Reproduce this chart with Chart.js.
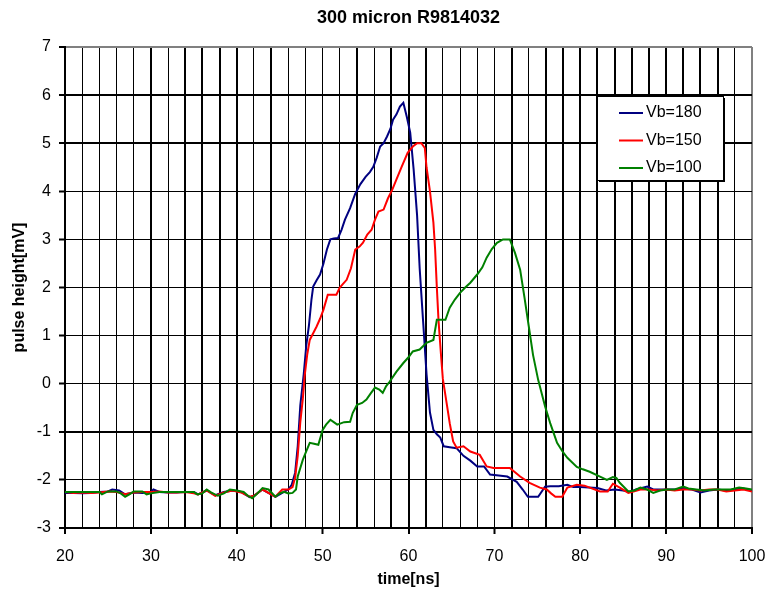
<!DOCTYPE html>
<html>
<head>
<meta charset="utf-8">
<script src="https://cdn.jsdelivr.net/npm/chart.js@4.4.0/dist/chart.umd.min.js"></script>
<style>
body { margin: 0; background: #fff; }
canvas { display: block; }
</style>
</head>
<body>
<canvas id="pulseChart" width="767" height="594"></canvas>
<script>
// traces: time [ns] / pulse height [mV]
var chartTitle = '300 micron R9814032';
var seriesNames = ["Vb=180", "Vb=150", "Vb=100"];

var tVb180 = [20, 21, 22, 23, 24, 25, 25.5, 26.3, 27, 28, 29, 30, 30.3, 31, 32, 33, 34, 35, 35.5, 36.5, 37.5, 38.5, 39.5, 40.5, 41.5, 42, 43, 44, 44.5, 45, 45.5, 46, 46.4, 46.8, 47.1, 47.4, 47.8, 48.1, 48.4, 48.7, 48.9, 49.3, 49.7, 50.1, 50.5, 50.9, 51.3, 51.8, 52.2, 52.6, 53.2, 53.8, 54.4, 55, 55.5, 55.9, 56.3, 56.7, 57.1, 57.5, 57.9, 58.2, 58.6, 59, 59.4, 59.8, 60.2, 60.6, 61, 61.3, 61.7, 62.1, 62.5, 62.9, 63.3, 63.7, 64.1, 64.8, 65.6, 66.4, 67.2, 68, 68.8, 69.5, 70.5, 71.5, 72.6, 73.3, 73.9, 74.5, 75.1, 75.9, 76.5, 77.5, 78.5, 79.2, 80, 81, 82, 83, 84, 85, 85.8, 86.5, 87.8, 88.5, 89, 90, 91, 92, 93, 94, 95, 96, 97, 98, 99, 100];
var vVb180 = [-2.27, -2.27, -2.28, -2.27, -2.25, -2.24, -2.2, -2.22, -2.3, -2.26, -2.27, -2.25, -2.2, -2.25, -2.26, -2.26, -2.25, -2.25, -2.3, -2.22, -2.32, -2.25, -2.22, -2.25, -2.36, -2.33, -2.2, -2.3, -2.35, -2.3, -2.25, -2.2, -2.1, -1.85, -1.3, -0.45, 0.2, 0.8, 1.2, 1.75, 2.02, 2.15, 2.27, 2.5, 2.79, 3.0, 3.02, 3.03, 3.2, 3.41, 3.65, 3.95, 4.15, 4.3, 4.4, 4.51, 4.7, 4.93, 5.0, 5.14, 5.3, 5.49, 5.6, 5.76, 5.84, 5.55, 5.22, 4.45, 3.5, 2.4, 1.3, 0.2, -0.6, -0.96, -1.05, -1.12, -1.3, -1.32, -1.34, -1.5, -1.6, -1.72, -1.72, -1.89, -1.91, -1.93, -2.04, -2.2, -2.35, -2.35, -2.35, -2.14, -2.13, -2.13, -2.1, -2.15, -2.15, -2.16, -2.17, -2.22, -2.2, -2.22, -2.25, -2.2, -2.14, -2.2, -2.2, -2.2, -2.2, -2.18, -2.2, -2.26, -2.22, -2.2, -2.22, -2.2, -2.18, -2.22];

var tVb150 = [20, 21, 22, 23, 24, 25, 26, 27, 28, 29, 30, 31, 32, 33, 34, 35, 35.5, 36.5, 37.5, 38.5, 39.5, 40.5, 41.5, 42, 43, 44, 44.5, 45.3, 46, 46.5, 46.8, 47.1, 47.4, 47.7, 47.9, 48.2, 48.5, 48.9, 49.3, 49.7, 50.1, 50.6, 51.1, 51.6, 52, 52.4, 52.8, 53.3, 53.8, 54.3, 54.7, 55.2, 55.7, 56.1, 56.5, 57.1, 57.6, 58.1, 58.6, 59.2, 59.9, 60.5, 61, 61.5, 61.9, 62.1, 62.5, 62.9, 63.1, 63.3, 63.5, 63.8, 64, 64.5, 64.8, 65.2, 65.6, 66.4, 67.2, 68.3, 69.1, 69.9, 70.8, 71.8, 73, 74.1, 75.3, 76.1, 76.6, 77.1, 77.9, 78.5, 79.6, 80.5, 81.1, 82.3, 83.2, 83.8, 84.6, 85.6, 86.2, 87, 88, 89, 90, 91, 92, 93, 94, 95, 96, 97, 98, 99, 100];
var vVb150 = [-2.25, -2.27, -2.26, -2.27, -2.26, -2.24, -2.25, -2.3, -2.26, -2.25, -2.25, -2.24, -2.26, -2.26, -2.25, -2.28, -2.3, -2.22, -2.33, -2.26, -2.22, -2.26, -2.35, -2.33, -2.2, -2.3, -2.35, -2.2, -2.2, -2.15, -1.95, -1.5, -0.8, -0.3, 0.15, 0.6, 0.91, 1.05, 1.19, 1.35, 1.54, 1.85, 1.85, 1.85, 2.0, 2.08, 2.16, 2.4, 2.79, 2.85, 2.93, 3.1, 3.2, 3.41, 3.58, 3.62, 3.85, 4.03, 4.25, 4.51, 4.8, 4.93, 5.0, 5.0, 4.9, 4.5, 4.0, 3.35, 2.79, 2.0, 1.3, 0.56, 0.1, -0.47, -0.82, -1.2, -1.33, -1.3, -1.41, -1.48, -1.72, -1.75, -1.75, -1.75, -1.93, -2.06, -2.16, -2.2, -2.28, -2.35, -2.35, -2.16, -2.1, -2.12, -2.16, -2.24, -2.24, -2.08, -2.16, -2.27, -2.24, -2.2, -2.2, -2.22, -2.2, -2.22, -2.2, -2.2, -2.22, -2.2, -2.2, -2.24, -2.22, -2.2, -2.24];

var tVb100 = [20, 21, 22, 23, 24, 24.3, 25, 26, 26.5, 27, 27.5, 28, 29, 29.5, 30, 31, 32, 33, 34, 35, 35.4, 36, 36.5, 37, 37.8, 38.5, 39.2, 40, 40.8, 41.3, 41.8, 42.3, 43, 43.7, 44.5, 45, 45.5, 46, 46.5, 46.9, 47.1, 47.7, 48.1, 48.5, 49, 49.5, 50, 50.4, 50.9, 51.3, 51.7, 52.5, 53.2, 53.5, 54, 54.6, 55.1, 55.6, 56.1, 56.6, 57, 57.4, 57.8, 58.6, 59.4, 60, 60.5, 61.3, 62.1, 62.9, 63.3, 64.3, 64.8, 65.4, 66, 66.6, 67.2, 68, 68.6, 69.1, 69.7, 70.3, 71, 71.8, 72.4, 73, 73.5, 74, 74.5, 75.1, 75.9, 76.5, 77.3, 77.9, 78.5, 79.6, 80.3, 81.1, 82.3, 83.1, 83.8, 84.2, 84.6, 85.6, 86.3, 87, 87.8, 88.5, 89.3, 90.1, 91, 92, 92.6, 93.5, 94.5, 95.5, 96.5, 97.5, 98.5, 99.3, 100];
var vVb100 = [-2.25, -2.25, -2.25, -2.25, -2.25, -2.3, -2.24, -2.24, -2.28, -2.35, -2.3, -2.24, -2.24, -2.3, -2.28, -2.25, -2.25, -2.25, -2.25, -2.25, -2.3, -2.28, -2.2, -2.26, -2.33, -2.28, -2.2, -2.22, -2.25, -2.33, -2.38, -2.3, -2.17, -2.2, -2.35, -2.28, -2.25, -2.28, -2.27, -2.2, -1.93, -1.58, -1.4, -1.23, -1.25, -1.27, -0.96, -0.85, -0.75, -0.8, -0.85, -0.8, -0.79, -0.61, -0.44, -0.4, -0.33, -0.2, -0.08, -0.12, -0.19, -0.05, 0.04, 0.25, 0.43, 0.55, 0.67, 0.71, 0.85, 0.91, 1.33, 1.33, 1.58, 1.75, 1.89, 2.0, 2.1, 2.27, 2.42, 2.62, 2.8, 2.93, 3.0, 3.0, 2.72, 2.37, 1.8, 1.2, 0.6, 0.08, -0.47, -0.82, -1.23, -1.4, -1.54, -1.73, -1.78, -1.83, -1.93, -2.0, -1.94, -1.96, -2.06, -2.24, -2.22, -2.16, -2.2, -2.27, -2.22, -2.2, -2.2, -2.14, -2.18, -2.2, -2.22, -2.2, -2.2, -2.2, -2.16, -2.18, -2.2];

// grid lines that come out heavier in the original
var xHeavy = [20, 30, 34, 36, 38, 40, 44, 54, 58, 60, 62, 72, 76, 78, 80, 82, 84, 86, 88, 90, 92, 94, 96];
var yHeavy = [7, 6, 5, -1, -3];

function pts(t, v) {
  return t.map(function (x, i) { return { x: x, y: v[i] }; });
}

Chart.defaults.font.family = "'Liberation Sans', Arial, sans-serif";
Chart.defaults.color = '#000';

// title centred over the plot area + the boxed legend, as in the excel original
var excelBits = {
  id: 'excelBits',
  afterDraw: function (chart) {
    var ctx = chart.ctx;
    var area = chart.chartArea;
    ctx.save();
    ctx.fillStyle = '#000';
    ctx.font = "bold 18px 'Liberation Sans', Arial, sans-serif";
    ctx.textAlign = 'center';
    ctx.textBaseline = 'middle';
    ctx.fillText(chartTitle, (area.left + area.right) / 2, 18);

    var x = 597, y = 96, w = 126, h = 84;
    ctx.fillStyle = '#fff';
    ctx.fillRect(x, y, w, h);
    ctx.fillStyle = '#000';
    ctx.fillRect(x + w, y + 2, 2, h);
    ctx.fillRect(x + 2, y + h, w, 2);
    ctx.strokeStyle = '#000';
    ctx.lineWidth = 1;
    ctx.strokeRect(x + 0.5, y + 0.5, w, h);
    ctx.font = "16px 'Liberation Sans', Arial, sans-serif";
    ctx.textAlign = 'left';
    chart.data.datasets.forEach(function (ds, i) {
      var ly = 113 + i * 27.5;
      ctx.strokeStyle = ds.borderColor;
      ctx.lineWidth = 2;
      ctx.beginPath();
      ctx.moveTo(619, ly);
      ctx.lineTo(643, ly);
      ctx.stroke();
      ctx.fillStyle = '#000';
      ctx.fillText(ds.label, 646, ly);
    });
    ctx.restore();
  }
};

new Chart(document.getElementById('pulseChart'), {
  type: 'line',
  data: {
    datasets: [
      { label: seriesNames[0], data: pts(tVb180, vVb180), borderColor: '#000080', order: 2 },
      { label: seriesNames[1], data: pts(tVb150, vVb150), borderColor: '#ff0000', order: 1 },
      { label: seriesNames[2], data: pts(tVb100, vVb100), borderColor: '#008000', order: 0 }
    ]
  },
  options: {
    responsive: false,
    animation: false,
    layout: { padding: { left: 0, right: 15, top: 47, bottom: 0 } },
    elements: {
      point: { radius: 0 },
      line: { borderWidth: 2, tension: 0 }
    },
    plugins: {
      legend: { display: false },
      tooltip: { enabled: false },
      title: { display: false }
    },
    scales: {
      x: {
        type: 'linear',
        min: 20,
        max: 100,
        afterFit: function (s) {
          s.height = 66;
          s.paddingLeft = 0;
          s.paddingRight = 0;
        },
        ticks: {
          stepSize: 2,
          autoSkip: false,
          maxRotation: 0,
          padding: 13,
          font: { size: 16 },
          callback: function (v) { return v % 10 === 0 ? v : ''; }
        },
        grid: {
          color: function (c) { return c.tick && c.tick.value === 100 ? '#808080' : '#000'; },
          lineWidth: function (c) { return c.tick && (xHeavy.indexOf(c.tick.value) >= 0 || c.tick.value === 100) ? 2 : 1; },
          tickLength: 6,
          tickColor: function (c) { return c.tick && c.tick.value % 10 === 0 ? '#000' : 'rgba(0,0,0,0)'; },
          tickWidth: 2
        },
        border: { color: '#000', width: 2 },
        title: {
          display: true,
          text: 'time[ns]',
          font: { size: 16, weight: 'bold' },
          padding: { top: 0, bottom: 5 }
        }
      },
      y: {
        min: -3,
        max: 7,
        afterFit: function (s) { s.width = 65; },
        ticks: {
          stepSize: 1,
          padding: 8,
          font: { size: 16 }
        },
        grid: {
          color: function (c) { return c.tick && c.tick.value === 7 ? '#808080' : '#000'; },
          lineWidth: function (c) { return c.tick && yHeavy.indexOf(c.tick.value) >= 0 ? 2 : 1; },
          tickLength: 6,
          tickColor: '#000',
          tickWidth: 2
        },
        border: { color: '#000', width: 2 },
        title: {
          display: true,
          text: 'pulse height[mV]',
          font: { size: 16, weight: 'bold' },
          padding: { top: 10, bottom: 0 }
        }
      }
    }
  },
  plugins: [excelBits]
});
</script>
</body>
</html>
